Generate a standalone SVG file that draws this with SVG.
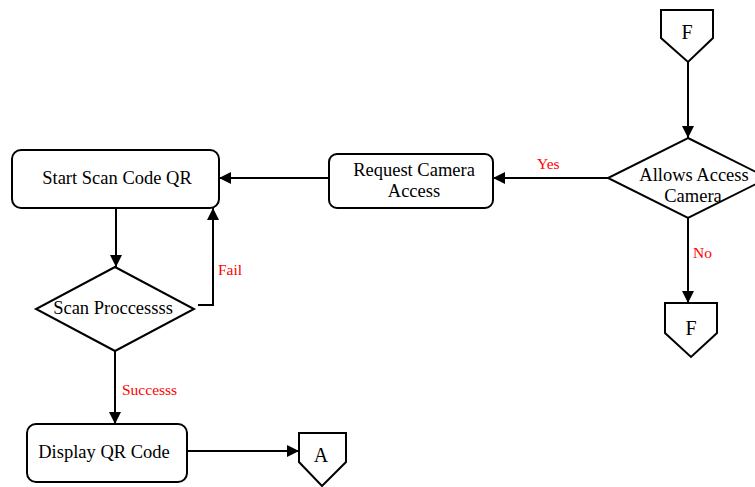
<svg xmlns="http://www.w3.org/2000/svg" width="755" height="487" viewBox="0 0 755 487">
<style>
.shape{fill:#fff;stroke:#000;stroke-width:2}
.t{font-family:'Times New Roman','Liberation Serif','DejaVu Serif',serif;font-size:18.5px;fill:#000;text-anchor:middle}
.big{font-size:20px}
.lbl{font-family:'Times New Roman','Liberation Serif','DejaVu Serif',serif;font-size:15.5px;fill:#ff0000}
.c{fill:none;stroke:#000;stroke-width:2;marker-end:url(#ah)}
</style>
<defs>
<marker id="ah" viewBox="0 0 10 10" refX="10" refY="5" markerWidth="12" markerHeight="12" markerUnits="userSpaceOnUse" orient="auto">
<path d="M0,0 L10,5 L0,10 Z" fill="#000"/>
</marker>
</defs>
<rect width="755" height="487" fill="#fff"/>
<g id="connectors">
<path class="c" d="M688,62 L688,138"/>
<path class="c" d="M608,178 L493,178"/>
<path class="c" d="M329,178 L219,178"/>
<path class="c" d="M688,218 L688,303"/>
<path class="c" d="M116,208 L116,267"/>
<path class="c" d="M198,305 L213,305 L213,208"/>
<path class="c" d="M115,351 L115,424"/>
<path class="c" d="M187,451 L299,451"/>
<text class="lbl" x="537" y="169">Yes</text>
<text class="lbl" x="693" y="258">No</text>
<text class="lbl" x="218" y="275">Fail</text>
<text class="lbl" x="122" y="395">Successs</text>
</g>
<g id="offpage-top-F">
<path class="shape" d="M661,10 L713,10 L713,38 L688,62 L661,38 Z"/>
<text class="t big" x="687" y="39">F</text>
</g>
<g id="allows-access">
<path class="shape" d="M688,138 L768,178 L688,218 L608,178 Z"/>
<text class="t" x="694" y="181">Allows Access</text>
<text class="t" x="693" y="202">Camera</text>
</g>
<g id="offpage-bottom-F">
<path class="shape" d="M665,303 L717,303 L717,333 L691,357 L665,333 Z"/>
<text class="t big" x="691" y="335">F</text>
</g>
<g id="request-camera">
<rect class="shape" x="329" y="154" width="164" height="54" rx="8"/>
<text class="t" x="414" y="176">Request Camera</text>
<text class="t" x="414" y="197">Access</text>
</g>
<g id="start-scan">
<rect class="shape" x="12" y="150" width="207" height="58" rx="9"/>
<text class="t" x="117" y="184">Start Scan Code QR</text>
</g>
<g id="scan-process">
<path class="shape" d="M115,267 L194,309 L115,351 L36,309 Z"/>
<text class="t" x="113" y="314">Scan Proccessss</text>
</g>
<g id="display-qr">
<rect class="shape" x="27" y="424" width="160" height="58" rx="9"/>
<text class="t" x="104" y="458">Display QR Code</text>
</g>
<g id="offpage-A">
<path class="shape" d="M299,433 L346,433 L346,462 L322,486 L299,462 Z"/>
<text class="t big" x="321" y="462">A</text>
</g>
</svg>
